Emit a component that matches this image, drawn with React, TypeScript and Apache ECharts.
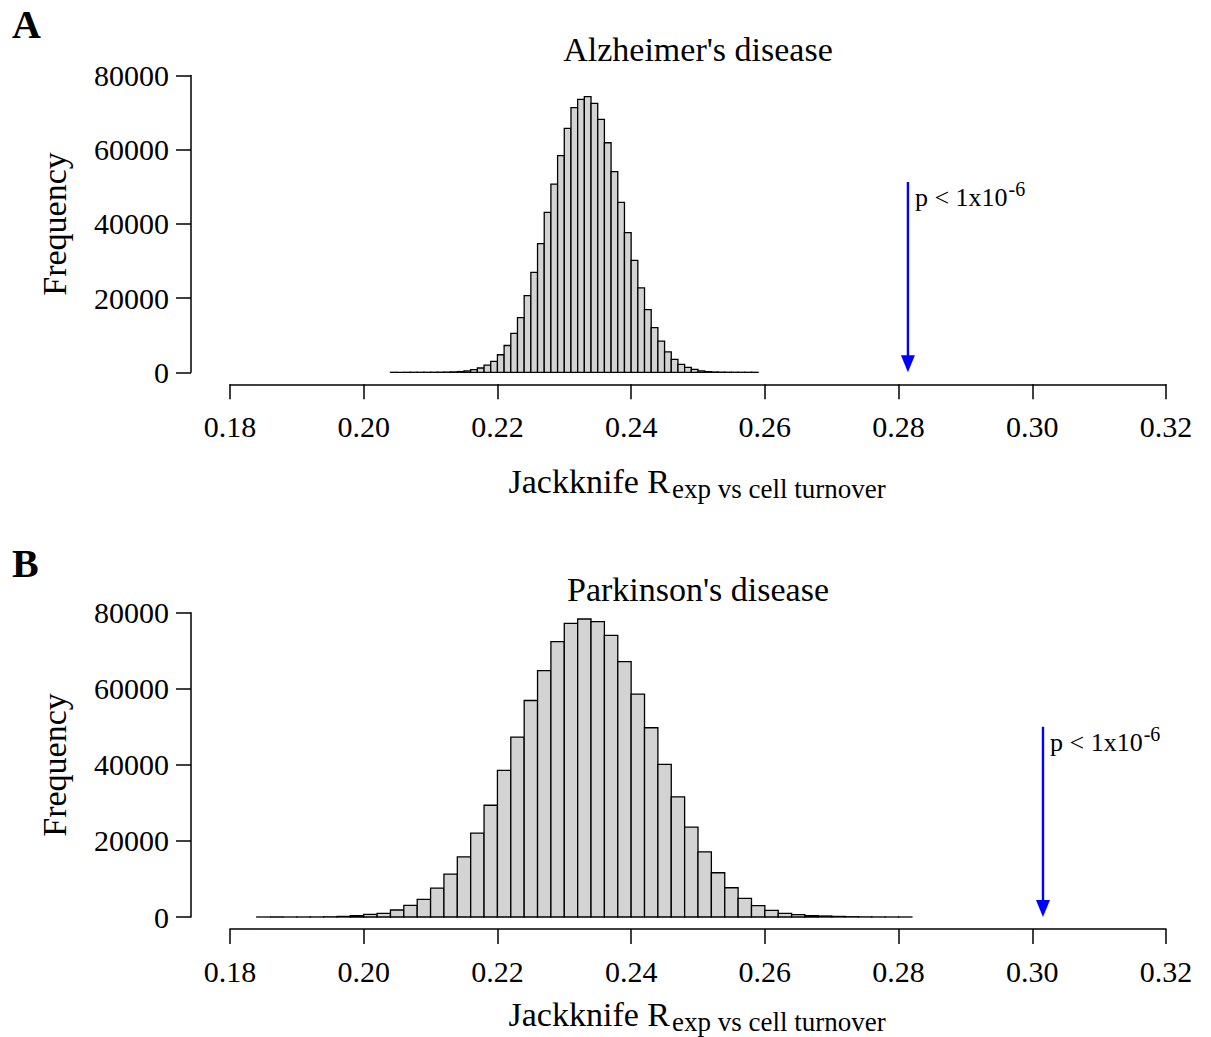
import React, { useEffect, useRef } from "react";
import * as echarts from "echarts";

const FONT = "'Liberation Serif', 'Times New Roman', Times, serif";

// Axis settings
const X_MIN = 0.18;
const X_MAX = 0.32;
const X_STEP = 0.02;
const Y_MIN = 0;
const Y_MAX = 80000;
const Y_STEP = 20000;

// Panel A: Alzheimer's disease (bins of 0.001 starting at 0.204)
const adBinStart = 0.204;
const adBinWidth = 0.001;
const adCounts = [
  1, 0, 1, 2, 4, 8, 15, 30, 60, 110, 200, 360, 710, 1160, 1960, 2940, 4730,
  7220, 10510, 14730, 20650, 26950, 34670, 43110, 50740, 58380, 65750, 71320,
  73560, 74280, 72490, 68170, 61880, 54070, 45810, 37630, 30180, 22730, 16890,
  12030, 8380, 5530, 3480, 2140, 1340, 800, 360, 180, 90, 45, 20, 9, 4, 2, 1,
];
const adObserved = 0.2814;
const adArrowTop = 51300;

// Panel B: Parkinson's disease (bins of 0.002 starting at 0.184)
const pdBinStart = 0.184;
const pdBinWidth = 0.002;
const pdCounts = [
  1, 0, 2, 5, 15, 45, 150, 350, 700, 960, 1840, 3060, 4630, 7610, 11280, 15830,
  22030, 29380, 38560, 47300, 56920, 64790, 72390, 77200, 78340, 77640, 74050,
  67150, 58580, 49750, 40130, 31560, 23610, 17140, 11630, 7690, 4900, 2970,
  1750, 960, 610, 350, 260, 150, 70, 30, 12, 5, 2,
];
const pdObserved = 0.3016;
const pdArrowTop = 50000;

const panelLetters = ["A", "B"];
const panelTitles = ["Alzheimer's disease", "Parkinson's disease"];
const yAxisName = "Frequency";
const xMain = "Jackknife R";
const xSub = "exp vs cell turnover";
const pText = "p < 1x10";
const pExp = "-6";

const P_FONT = `26px ${FONT}`;
const P_EXP_FONT = `20px ${FONT}`;

let measureCtx: CanvasRenderingContext2D | null = null;
function textWidth(text: string, font: string): number {
  if (!measureCtx) {
    const c = document.createElement("canvas");
    measureCtx = c.getContext("2d");
  }
  if (!measureCtx) return text.length * 12;
  measureCtx.font = font;
  return measureCtx.measureText(text).width;
}

function binData(start: number, width: number, counts: number[]) {
  return counts.map((c, i) => [
    Number((start + i * width).toFixed(4)),
    Number((start + (i + 1) * width).toFixed(4)),
    c,
  ]);
}

const histRender = (params: any, api: any) => {
  const x0 = api.value(0);
  const x1 = api.value(1);
  const v = api.value(2);
  const p0 = api.coord([x0, v]);
  const p1 = api.coord([x1, 0]);
  return {
    type: "rect",
    shape: { x: p0[0], y: p0[1], width: p1[0] - p0[0], height: p1[1] - p0[1] },
    style: { fill: "#d3d3d3", stroke: "#000000", lineWidth: 1.3 },
  };
};

const arrowRender = (params: any, api: any) => {
  const x = api.value(0);
  const top = api.value(1);
  const pt = api.coord([x, top]);
  const pb = api.coord([x, 0]);
  const head = 17;
  const hw = 7;
  const tx = pt[0] + 7;
  const mainW = textWidth(pText, P_FONT);
  return {
    type: "group",
    children: [
      {
        type: "line",
        shape: { x1: pt[0], y1: pt[1], x2: pb[0], y2: pb[1] - head + 2 },
        style: { stroke: "#0000ff", lineWidth: 2.4 },
      },
      {
        type: "polygon",
        shape: {
          points: [
            [pb[0] - hw, pb[1] - head],
            [pb[0] + hw, pb[1] - head],
            [pb[0], pb[1]],
          ],
        },
        style: { fill: "#0000ff" },
      },
      {
        type: "text",
        x: tx,
        y: pt[1] + 16,
        style: {
          text: pText,
          font: P_FONT,
          fill: "#000",
          align: "left",
          verticalAlign: "middle",
        },
      },
      {
        type: "text",
        x: tx + mainW + 1,
        y: pt[1] + 7,
        style: {
          text: pExp,
          font: P_EXP_FONT,
          fill: "#000",
          align: "left",
          verticalAlign: "middle",
        },
      },
    ],
  };
};

export default function App() {
  const ref = useRef<HTMLDivElement>(null);
  useEffect(() => {
    if (!ref.current) return;
    const chart = echarts.init(ref.current, null, { renderer: "svg" });

    const grids = [
      { left: 230, top: 75.5, width: 936, height: 296.8 },
      { left: 230, top: 612.7, width: 936, height: 304.3 },
    ];

    const axisLineStyle = { color: "#000", width: 1.5 };

    const xAxes = grids.map((_, i) => ({
      type: "value",
      gridIndex: i,
      min: X_MIN,
      max: X_MAX,
      interval: X_STEP,
      offset: 12,
      axisLine: { show: true, onZero: false, lineStyle: axisLineStyle },
      axisTick: { show: true, length: 15, lineStyle: axisLineStyle },
      splitLine: { show: false },
      axisLabel: {
        formatter: (v: number) => v.toFixed(2),
        fontSize: 30,
        fontFamily: FONT,
        color: "#000",
        margin: 27,
        showMinLabel: true,
        showMaxLabel: true,
      },
    }));

    const yAxes = grids.map((_, i) => ({
      type: "value",
      gridIndex: i,
      min: Y_MIN,
      max: Y_MAX,
      interval: Y_STEP,
      offset: 39,
      axisLine: { show: true, onZero: false, lineStyle: axisLineStyle },
      axisTick: { show: true, length: 15, lineStyle: axisLineStyle },
      splitLine: { show: false },
      axisLabel: {
        formatter: (v: number) => String(Math.round(v)),
        fontSize: 30,
        fontFamily: FONT,
        color: "#000",
        margin: 22,
      },
    }));

    const layout = [
      { letterY: 24, titleY: 49, freqY: 224, xlabY: 492 },
      { letterY: 563, titleY: 589, freqY: 765, xlabY: 1025 },
    ];

    const graphics: any[] = [];
    layout.forEach((l, i) => {
      graphics.push({
        type: "text",
        x: 12,
        y: l.letterY,
        style: {
          text: panelLetters[i],
          font: `bold 40px ${FONT}`,
          fill: "#000",
          align: "left",
          verticalAlign: "middle",
          textAlign: "left",
          textVerticalAlign: "middle",
        },
      });
      graphics.push({
        type: "text",
        x: 698,
        y: l.titleY,
        style: {
          text: panelTitles[i],
          font: `34px ${FONT}`,
          fill: "#000",
          align: "center",
          verticalAlign: "middle",
          textAlign: "center",
          textVerticalAlign: "middle",
        },
      });
      graphics.push({
        type: "text",
        x: 54,
        y: l.freqY,
        rotation: Math.PI / 2,
        style: {
          text: yAxisName,
          font: `34px ${FONT}`,
          fill: "#000",
          align: "center",
          verticalAlign: "middle",
          textAlign: "center",
          textVerticalAlign: "middle",
        },
      });
      graphics.push({
        type: "text",
        x: 670,
        y: l.xlabY - 11,
        style: {
          text: xMain,
          font: `34px ${FONT}`,
          fill: "#000",
          align: "right",
          verticalAlign: "middle",
          textAlign: "right",
          textVerticalAlign: "middle",
        },
      });
      graphics.push({
        type: "text",
        x: 672,
        y: l.xlabY - 3,
        style: {
          text: xSub,
          font: `27px ${FONT}`,
          fill: "#000",
          align: "left",
          verticalAlign: "middle",
          textAlign: "left",
          textVerticalAlign: "middle",
        },
      });
    });

    chart.setOption({
      animation: false,
      backgroundColor: "#ffffff",
      grid: grids,
      xAxis: xAxes,
      yAxis: yAxes,
      graphic: { elements: graphics },
      series: [
        {
          type: "custom",
          xAxisIndex: 0,
          yAxisIndex: 0,
          renderItem: histRender,
          encode: { x: [0, 1], y: 2 },
          data: binData(adBinStart, adBinWidth, adCounts),
          silent: true,
        },
        {
          type: "custom",
          xAxisIndex: 1,
          yAxisIndex: 1,
          renderItem: histRender,
          encode: { x: [0, 1], y: 2 },
          data: binData(pdBinStart, pdBinWidth, pdCounts),
          silent: true,
        },
        {
          type: "custom",
          xAxisIndex: 0,
          yAxisIndex: 0,
          renderItem: arrowRender,
          encode: { x: 0, y: 1 },
          data: [[adObserved, adArrowTop]],
          silent: true,
          z: 5,
        },
        {
          type: "custom",
          xAxisIndex: 1,
          yAxisIndex: 1,
          renderItem: arrowRender,
          encode: { x: 0, y: 1 },
          data: [[pdObserved, pdArrowTop]],
          silent: true,
          z: 5,
        },
      ],
    });
    return () => chart.dispose();
  }, []);

  return (
    <div
      ref={ref}
      style={{ position: "absolute", left: 0, top: 0, width: 1211, height: 1037, background: "#fff" }}
    />
  );
}
